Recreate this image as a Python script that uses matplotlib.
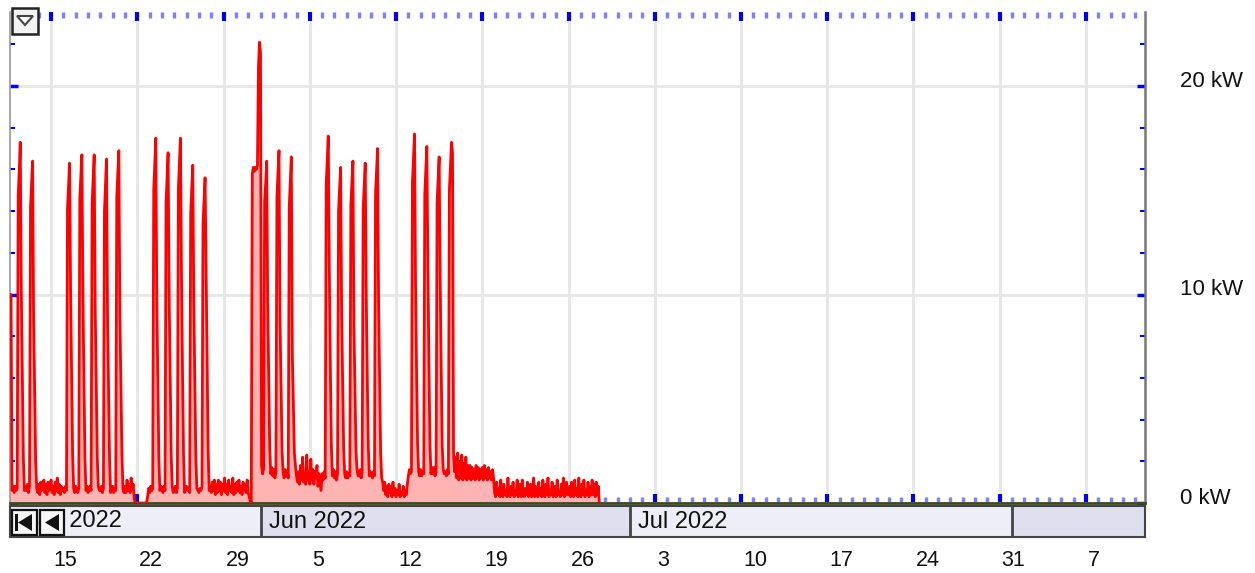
import matplotlib
matplotlib.use("Agg")
import matplotlib.pyplot as plt
import matplotlib.dates as mdates
import matplotlib.transforms as mtransforms
from matplotlib.patches import Rectangle, Polygon
from matplotlib.ticker import MultipleLocator
import pandas as pd

plt.rcParams["font.family"] = ["Liberation Sans", "DejaVu Sans"]

# power readings in kW, every 2 hours (00, 02, ... 22), first reading 2022-05-11 14:00
week_may11 = [
    10.0, 10.0, 10.0, 0.6, 0.8,                                  # May 11 (14-22h)
    0.5, 0.8, 0.6, 0.7, 14.8, 15.9, 17.3, 10.2, 6.0, 2.2, 0.6, 0.8,  # May 12
    0.6, 0.9, 0.5, 0.8, 14.2, 15.3, 16.4, 8.9, 5.5, 2.0, 0.7, 0.5,   # May 13
    0.9, 0.4, 1.0, 0.6, 0.8, 1.1, 0.5, 0.9, 0.4, 1.0, 0.6, 0.8,      # May 14
    1.1, 0.5, 0.8, 0.4, 1.0, 0.6, 1.2, 0.5, 0.9, 0.4, 0.8, 0.6,      # May 15
]
week_may16 = [
    0.7, 0.5, 0.8, 0.6, 14.1, 15.2, 16.3, 10.2, 6.1, 2.3, 0.7, 0.5,
    0.8, 0.6, 0.5, 0.7, 14.6, 15.6, 16.7, 10.1, 5.9, 2.1, 0.6, 0.8,
    0.5, 0.7, 0.8, 0.6, 14.4, 15.5, 16.7, 9.3, 5.6, 2.2, 0.8, 0.6,
    0.6, 0.8, 0.5, 0.7, 14.0, 15.3, 16.5, 8.9, 5.4, 2.0, 0.5, 0.7,
    0.8, 0.5, 0.7, 0.6, 14.7, 15.8, 16.9, 9.1, 5.7, 2.4, 0.7, 0.5,
    0.8, 0.5, 1.1, 0.6, 0.9, 0.5, 1.2, 0.7, 0.9, 0.2, 0.0, 0.0,
    0.0, 0.0, 0.0, 0.0, 0.0, 0.0, 0.0, 0.0, 0.0, 0.0, 0.3, 0.7,
]
week_may23 = [
    0.5, 0.8, 0.6, 0.7, 15.0, 16.2, 17.5, 9.7, 5.8, 2.1, 0.6, 0.8,
    0.7, 0.5, 0.8, 0.6, 14.4, 15.6, 16.8, 10.0, 6.0, 2.3, 0.8, 0.5,
    0.6, 0.8, 0.5, 0.7, 15.1, 16.3, 17.5, 11.1, 6.4, 2.4, 0.5, 0.7,
    0.8, 0.6, 0.7, 0.5, 13.9, 15.0, 16.2, 9.9, 5.8, 2.2, 0.7, 0.6,
    0.5, 0.7, 0.6, 0.8, 13.4, 14.5, 15.6, 11.1, 6.3, 2.5, 0.6, 0.8,
    0.5, 1.0, 0.6, 1.1, 0.4, 0.9, 0.5, 1.1, 0.6, 1.0, 0.4, 0.9,
    0.6, 1.2, 0.5, 0.9, 0.4, 1.1, 0.6, 0.8, 0.5, 1.2, 0.4, 0.9,
]
week_may30 = [
    0.5, 1.0, 0.6, 1.1, 0.5, 0.8, 0.4, 1.0, 0.6, 0.9, 0.5, 1.1,
    0.5, 0.3, 0.1, 0.0, 15.8, 16.1, 15.9, 16.1, 16.0, 16.2, 20.9, 22.1,
    21.6, 1.8, 1.4, 1.6, 14.5, 15.3, 16.4, 9.6, 6.0, 2.6, 1.4, 1.7,
    1.3, 1.6, 1.2, 1.5, 14.7, 15.8, 16.9, 8.8, 5.6, 2.5, 1.5, 1.2,
    1.6, 1.3, 1.5, 1.2, 14.2, 15.4, 16.6, 7.1, 4.8, 2.4, 1.8, 1.3,
    1.0, 1.5, 0.9, 1.8, 1.1, 2.2, 1.0, 1.4, 0.9, 2.3, 1.1, 1.5,
    0.9, 2.1, 1.1, 1.6, 0.9, 1.5, 1.2, 1.8, 0.8, 1.4, 1.0, 0.6,
]
week_jun06 = [
    1.4, 1.1, 1.5, 1.2, 15.3, 16.5, 17.6, 11.3, 6.6, 2.8, 1.3, 1.6,
    1.2, 1.5, 1.1, 1.4, 14.0, 15.1, 16.1, 9.4, 5.8, 2.6, 1.4, 1.2,
    1.5, 1.2, 1.4, 1.3, 14.3, 15.4, 16.4, 8.5, 5.4, 2.5, 1.6, 1.3,
    1.3, 1.6, 1.2, 1.5, 14.1, 15.2, 16.3, 9.9, 6.0, 2.7, 1.3, 1.5,
    1.4, 1.2, 1.5, 1.3, 14.8, 15.9, 17.0, 9.6, 5.9, 2.4, 1.2, 1.0,
    0.6, 1.0, 0.4, 0.8, 0.3, 0.9, 0.5, 0.8, 0.3, 1.0, 0.4, 0.7,
    0.3, 0.6, 0.4, 0.9, 0.3, 0.5, 0.4, 0.8, 0.3, 0.6, 0.4, 0.9,
]
week_jun13 = [
    1.3, 1.6, 1.4, 1.5, 15.4, 16.6, 17.7, 10.6, 6.3, 2.8, 1.5, 1.3,
    1.6, 1.3, 1.5, 1.4, 14.8, 16.0, 17.1, 11.6, 6.8, 2.9, 1.4, 1.7,
    1.4, 1.7, 1.3, 1.5, 14.4, 15.5, 16.6, 10.8, 6.4, 2.7, 1.6, 1.4,
    1.5, 1.3, 1.6, 1.4, 15.0, 16.2, 17.3, 16.8, 2.4, 1.5, 2.2, 1.2,
    2.4, 1.1, 2.0, 1.2, 2.3, 1.1, 1.9, 1.2, 2.2, 1.1, 1.8, 1.2,
    1.8, 1.1, 1.7, 1.2, 1.6, 1.1, 1.8, 1.2, 1.7, 1.1, 1.6, 1.2,
    1.7, 1.1, 1.8, 1.2, 1.6, 1.1, 1.7, 1.2, 1.5, 1.1, 1.6, 1.2,
]
week_jun20 = [
    0.5, 0.3, 1.0, 0.4, 0.7, 0.3, 1.1, 0.4, 0.3, 0.9, 0.4, 0.6,
    0.3, 1.2, 0.4, 0.3, 0.8, 0.4, 1.0, 0.3, 0.6, 0.4, 1.1, 0.3,
    0.4, 0.9, 0.3, 1.1, 0.4, 0.3, 0.7, 0.4, 1.0, 0.3, 0.5, 0.9,
    0.3, 0.4, 1.2, 0.3, 0.8, 0.4, 0.3, 1.0, 0.4, 0.7, 0.3, 1.1,
    0.4, 0.3, 0.9, 0.4, 1.2, 0.3, 0.6, 0.4, 1.0, 0.3, 0.4, 0.8,
    0.3, 1.1, 0.4, 0.5, 0.3, 0.9, 0.4, 1.2, 0.3, 0.5, 1.0, 0.4,
    0.4, 0.8, 0.3, 1.0, 0.4, 0.3, 1.1, 0.4, 0.7, 0.3, 1.2, 0.4,
]
week_jun27 = [
    0.3, 0.9, 0.4, 1.1, 0.3, 0.6, 0.4, 1.0, 0.3, 0.8, 0.4, 1.1,
    0.4, 0.9, 0.3, 1.0, 0.4, 0.8, 0.0,
]

power_kw = (week_may11 + week_may16 + week_may23 + week_may30
            + week_jun06 + week_jun13 + week_jun20 + week_jun27)
times = pd.date_range("2022-05-11 14:00", periods=len(power_kw), freq="2h")

x_start = pd.Timestamp("2022-05-11 16:00")
x_end = pd.Timestamp("2022-08-11 19:00")
y_max = 23.55
week_starts = pd.date_range("2022-05-15", "2022-08-07", freq="7D")
month_edges = [x_start, pd.Timestamp("2022-06-01"), pd.Timestamp("2022-07-01"),
               pd.Timestamp("2022-08-01"), x_end]
month_labels = ["May 2022", "Jun 2022", "Jul 2022", ""]
kw_ticks = [0, 10, 20]
kw_labels = ["0 kW", "10 kW", "20 kW"]

W, H = 1255, 573
fig = plt.figure(figsize=(W / 100, H / 100), dpi=100)


def fx(px):
    return px / W


def fy(py):
    return 1 - py / H


def shift(dx, dy):
    return mtransforms.ScaledTranslation(dx / 100, dy / 100, fig.dpi_scale_trans)


# main chart
ax = fig.add_axes([fx(10), fy(503), fx(1145) - fx(10), fy(12) - fy(503)])
ax.fill_between(times, power_kw, color="#FFB4B4", lw=0, zorder=2)
ax.plot(times, power_kw, color="#FF0000", lw=2.0, zorder=3)

ax.set_xlim(x_start, x_end)
ax.set_ylim(0, y_max)
ax.set_xticks(week_starts)
ax.xaxis.set_minor_locator(mdates.DayLocator())
ax.set_yticks(kw_ticks)
ax.yaxis.set_minor_locator(MultipleLocator(2))
ax.grid(which="major", color="#E6E6E6", lw=2)
ax.set_axisbelow(True)

ax.tick_params(axis="x", which="major", direction="in", top=True, bottom=True,
               length=6.5, width=3, color="#0000EE", labelbottom=False)
ax.tick_params(axis="x", which="minor", direction="in", top=True, bottom=True,
               length=4.5, width=2.4, color="#8080FF")
ax.tick_params(axis="y", which="major", direction="in", left=True, right=True,
               length=5.5, width=2.5, color="#0000EE", labelleft=False)
ax.tick_params(axis="y", which="minor", direction="in", left=True, right=True,
               length=3.5, width=1.5, color="#0000EE")

ax.spines["top"].set_visible(False)
ax.spines["left"].set_color("#999999")
ax.spines["left"].set_linewidth(1.2)
ax.spines["right"].set_color("#777777")
ax.spines["right"].set_linewidth(1.8)
ax.spines["bottom"].set_color("#3C4A1C")
ax.spines["bottom"].set_linewidth(2)

for val, txt in zip(kw_ticks, kw_labels):
    ax.text(1.0, val, txt, transform=ax.get_yaxis_transform() + shift(35, 5),
            ha="left", va="center", fontsize=16, color="#111111")

# month navigation bar
bar = fig.add_axes([fx(10), fy(537), fx(1145) - fx(10), fy(506) - fy(537)])
bar.set_xlim(x_start, x_end)
bar.set_ylim(0, 1)
bar_colors = ["#EEEEF8", "#DFDFEE", "#EEEEF8", "#DFDFEE"]
for i, lbl in enumerate(month_labels):
    bar.axvspan(month_edges[i], month_edges[i + 1], color=bar_colors[i], lw=0)
    bar.text(month_edges[i], 0.5, lbl, transform=bar.get_xaxis_transform() + shift(8, 0),
             ha="left", va="center", fontsize=17, color="#111111")
for edge in month_edges[1:-1]:
    bar.axvline(edge, color="#444444", lw=2)
bar.set_yticks([])
bar.set_xticks(week_starts)
bar.set_xticklabels([])
bar.tick_params(length=0)
for s in bar.spines.values():
    s.set_color("#444444")
    s.set_linewidth(1.5)

for d in week_starts:
    bar.text(d, 0, str(d.day), transform=bar.get_xaxis_transform() + shift(2, -23),
             ha="left", va="center", fontsize=15.5, color="#111111")

# navigation buttons
for x0, x1, has_bar in [(12, 37, True), (40, 64, False)]:
    fig.add_artist(Rectangle((fx(x0), fy(535)), fx(x1) - fx(x0), fy(510) - fy(535),
                             transform=fig.transFigure, facecolor="#F6F6F6",
                             edgecolor="#111111", lw=1.6, zorder=10))
    tip = x0 + 6 if has_bar else x0 + 5
    fig.add_artist(Polygon([(fx(tip), fy(522.5)), (fx(x1 - 5), fy(514)), (fx(x1 - 5), fy(531))],
                           closed=True, transform=fig.transFigure, facecolor="#111111",
                           lw=0, zorder=11))
    if has_bar:
        fig.add_artist(Rectangle((fx(x0 + 3), fy(531)), fx(2.5), fy(514) - fy(531),
                                 transform=fig.transFigure, facecolor="#111111",
                                 lw=0, zorder=11))

# dropdown box in the top-left corner
fig.add_artist(Rectangle((fx(12), fy(34)), fx(26), fy(8) - fy(34), transform=fig.transFigure,
                         facecolor="#F2F2F2", edgecolor="#222222", lw=1.8, zorder=10))
fig.add_artist(Polygon([(fx(17), fy(16)), (fx(33), fy(16)), (fx(25), fy(25))], closed=True,
                       transform=fig.transFigure, facecolor="white", edgecolor="#444444",
                       lw=1.5, zorder=11))

fig.savefig("out.png", dpi=100)
